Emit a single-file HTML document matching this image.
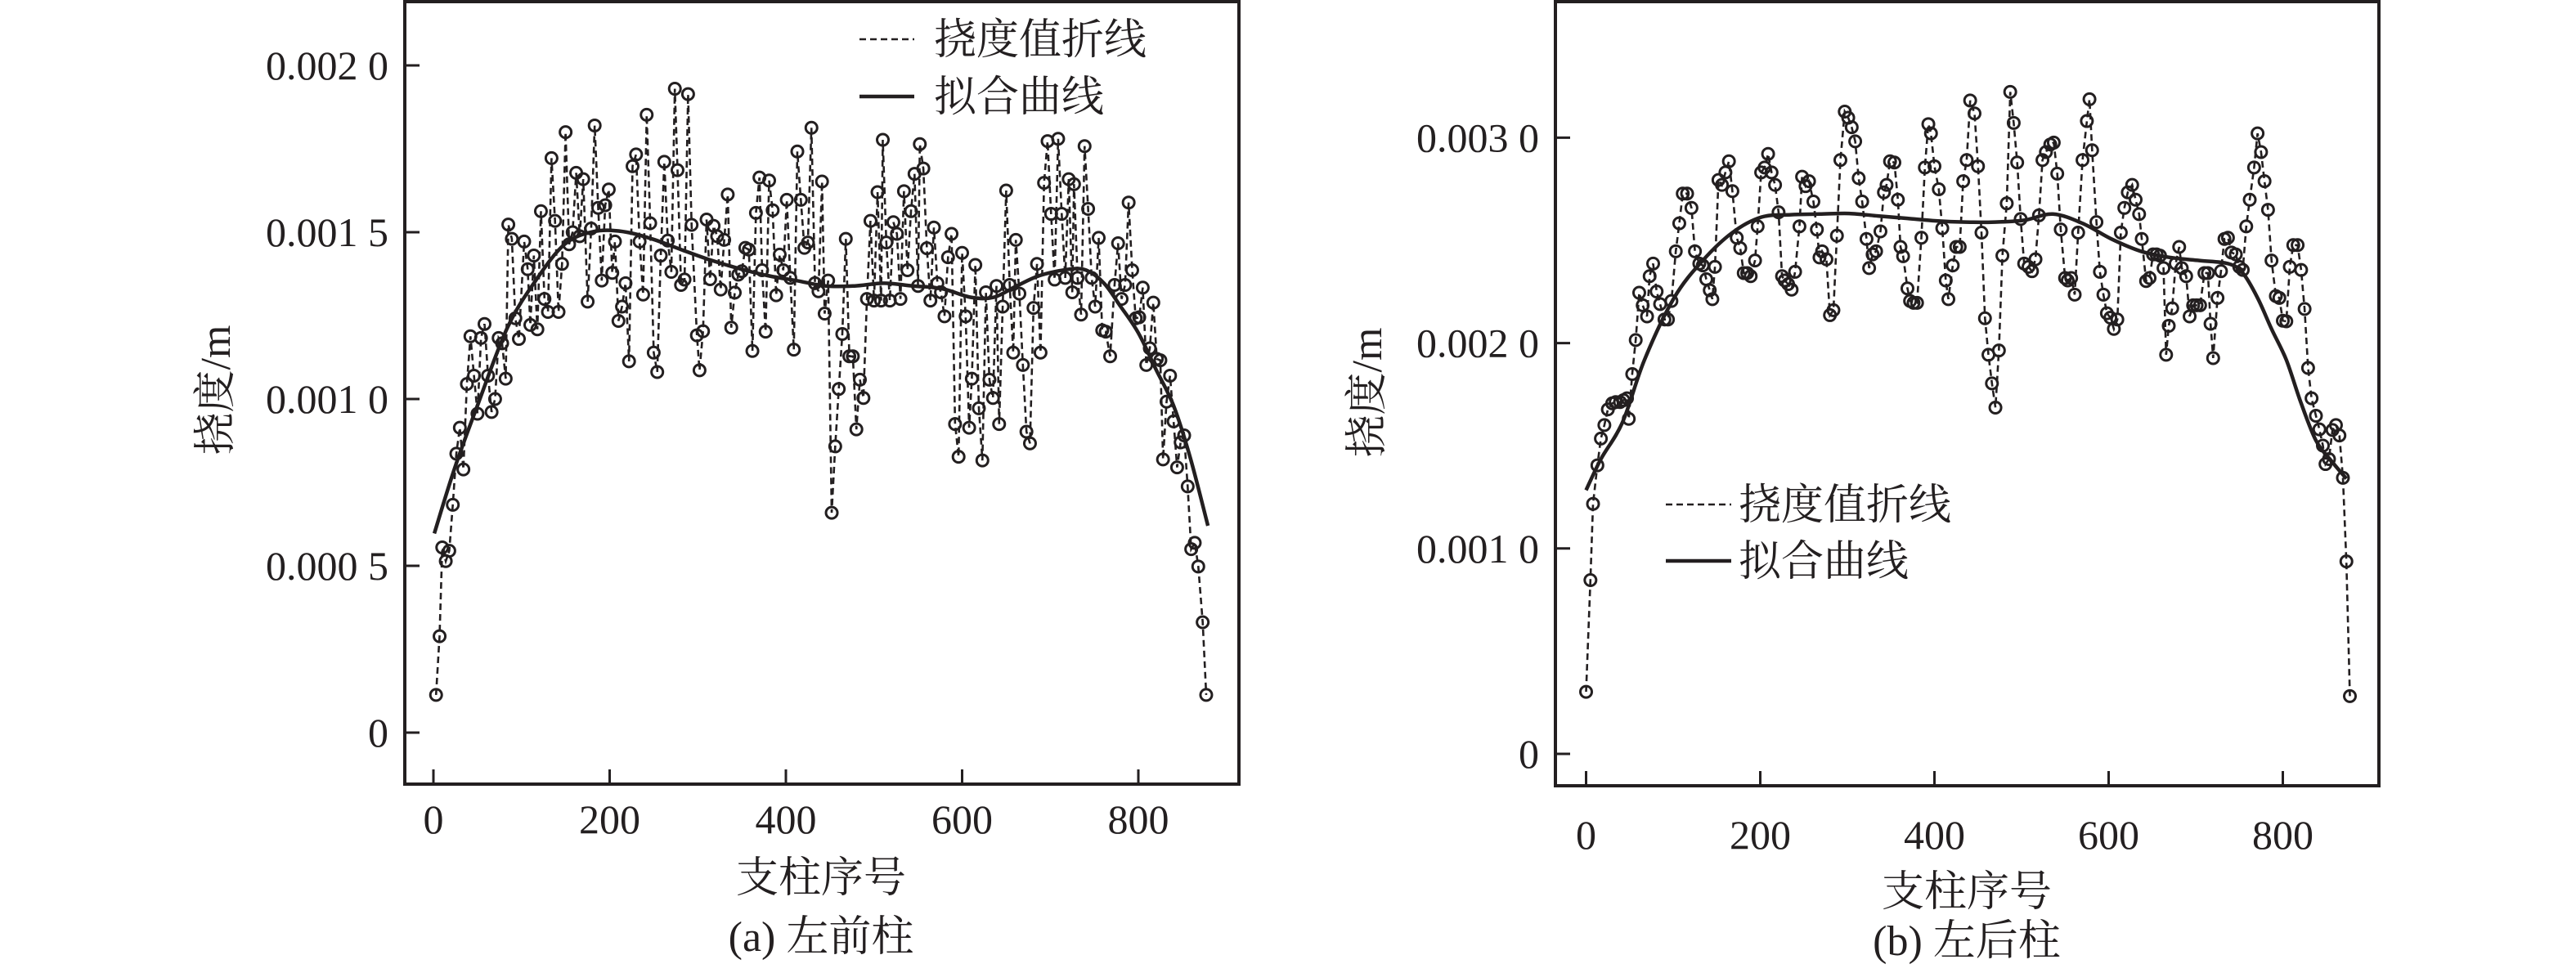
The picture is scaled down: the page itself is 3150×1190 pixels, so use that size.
<!DOCTYPE html>
<html><head><meta charset="utf-8">
<style>
html,body{margin:0;padding:0;background:#fff;}
svg{display:block;}
text{font-family:"Liberation Serif","Noto Serif CJK SC","Noto Sans CJK SC",serif;fill:#231f20;}
</style></head>
<body>
<svg id="fig" width="3150" height="1190" viewBox="0 0 3150 1190" xmlns="http://www.w3.org/2000/svg">
<g id="chartA"></g>
<g id="chartB"></g>
</svg>
<script>
// ---- Chart (a) data: support index, deflection in mm ----
const aX = [3,7,10,14,18,22,26,30,34,38,42,46,50,54,58,62,66,70,74,78,82,85,89,93,97,103,107,110,114,118,122,126,130,134,138,142,146,150,154,158,162,166,170,175,179,183,187,191,195,199,203,206,210,214,218,222,226,230,234,238,242,246,250,254,258,262,266,270,274,277,281,285,289,293,299,302,306,310,314,318,322,326,330,334,338,342,346,350,354,358,362,366,370,373,377,381,385,389,393,397,401,405,409,413,417,421,425,429,433,437,441,444,448,452,456,460,464,468,472,476,480,484,488,492,496,500,504,508,510,514,518,522,526,530,534,538,542,546,550,552,556,560,564,568,572,576,580,584,588,592,596,600,604,608,611,615,619,623,627,631,635,639,642,646,650,654,658,661,665,669,673,677,681,685,689,693,697,701,705,709,713,717,721,725,727,731,735,739,743,747,751,755,759,763,768,773,777,781,785,789,793,797,801,805,809,813,817,821,825,828,832,836,840,844,848,852,856,860,864,868,873,877];
const aY = [0.113,0.289,0.555,0.514,0.545,0.683,0.836,0.914,0.789,1.045,1.188,1.070,0.956,1.183,1.225,1.070,0.961,1.000,1.183,1.167,1.061,1.523,1.480,1.242,1.180,1.472,1.389,1.222,1.430,1.209,1.563,1.300,1.261,1.722,1.534,1.261,1.405,1.800,1.464,1.500,1.678,1.488,1.659,1.292,1.511,1.820,1.573,1.355,1.581,1.628,1.378,1.472,1.234,1.277,1.347,1.113,1.698,1.733,1.472,1.313,1.852,1.527,1.139,1.081,1.430,1.711,1.475,1.381,1.930,1.686,1.342,1.358,1.914,1.522,1.191,1.086,1.203,1.538,1.359,1.519,1.488,1.328,1.477,1.613,1.214,1.319,1.373,1.383,1.453,1.448,1.144,1.558,1.664,1.386,1.202,1.655,1.566,1.311,1.433,1.386,1.597,1.363,1.148,1.742,1.597,1.453,1.469,1.813,1.347,1.323,1.652,1.256,1.355,0.659,0.858,1.030,1.195,1.480,1.128,1.128,0.909,1.058,1.003,1.300,1.534,1.295,1.620,1.295,1.777,1.469,1.295,1.530,1.495,1.300,1.623,1.386,1.563,1.675,1.339,1.764,1.691,1.452,1.295,1.514,1.347,1.320,1.248,1.425,1.495,0.925,0.827,1.438,1.248,0.914,1.061,1.402,0.972,0.816,1.320,1.058,1.003,1.339,0.925,1.277,1.625,1.342,1.139,1.477,1.316,1.102,0.902,0.867,1.273,1.405,1.139,1.648,1.773,1.555,1.358,1.780,1.555,1.363,1.659,1.320,1.644,1.363,1.253,1.758,1.570,1.363,1.277,1.483,1.206,1.202,1.128,1.342,1.467,1.300,1.342,1.589,1.386,1.242,1.245,1.334,1.102,1.152,1.289,1.120,1.116,0.819,0.992,1.070,0.933,0.795,0.870,0.891,0.738,0.550,0.569,0.498,0.331,0.113];
const aFitX = [1,24,51,84,116,149,182,215,248,281,314,347,379,412,445,478,511,544,577,610,636,662,688,721,741,761,780,800,820,840,859,879];
const aFitY = [0.597,0.792,0.988,1.214,1.355,1.464,1.502,1.502,1.480,1.448,1.417,1.391,1.370,1.355,1.339,1.339,1.347,1.339,1.331,1.305,1.305,1.339,1.370,1.389,1.386,1.347,1.277,1.198,1.089,0.980,0.823,0.620];
const aYTicks = [0,0.5,1.0,1.5,2.0];
const aYTickLabels = ["0","0.000 5","0.001 0","0.001 5","0.002 0"];
const xTicks = [0,200,400,600,800];
const xTickLabels = ["0","200","400","600","800"];

// ---- Chart (b) data ----
const bX = [0,5,8,13,17,21,25,30,34,39,43,47,49,53,57,61,65,70,73,77,81,85,90,94,98,103,107,111,116,121,125,130,134,138,142,145,148,152,156,160,164,168,173,177,181,185,189,194,197,201,205,209,213,217,221,225,228,232,236,240,245,248,252,256,261,265,268,271,276,280,284,288,292,297,301,305,309,313,317,322,325,329,333,338,342,345,349,354,358,361,364,369,372,376,380,385,389,393,396,400,405,409,413,416,421,425,429,433,437,441,446,450,454,458,462,466,470,474,478,483,487,491,495,499,503,508,512,516,520,524,528,533,537,541,545,550,553,557,561,565,570,575,578,581,586,590,594,598,602,606,610,614,618,622,627,631,635,638,643,647,651,655,659,663,666,669,673,677,681,684,689,693,697,701,705,710,714,717,720,725,729,733,737,741,746,750,754,758,762,767,771,775,779,783,787,792,796,800,804,808,812,817,821,825,829,833,838,842,846,849,853,857,861,865,869,873,877];
const bY = [0.302,0.846,1.217,1.405,1.535,1.601,1.677,1.707,1.713,1.713,1.722,1.731,1.631,1.849,2.015,2.245,2.184,2.130,2.326,2.387,2.251,2.190,2.115,2.115,2.205,2.447,2.583,2.728,2.728,2.658,2.447,2.387,2.378,2.311,2.257,2.214,2.371,2.794,2.770,2.831,2.885,2.740,2.513,2.462,2.341,2.341,2.326,2.402,2.568,2.831,2.855,2.921,2.831,2.770,2.637,2.326,2.305,2.287,2.260,2.347,2.568,2.810,2.764,2.788,2.689,2.553,2.417,2.447,2.408,2.136,2.160,2.523,2.891,3.127,3.097,3.051,2.982,2.803,2.689,2.507,2.365,2.432,2.447,2.544,2.734,2.770,2.885,2.879,2.698,2.468,2.423,2.266,2.205,2.196,2.196,2.513,2.855,3.066,3.021,2.861,2.749,2.559,2.305,2.214,2.378,2.468,2.468,2.788,2.891,3.181,3.118,2.861,2.538,2.121,1.943,1.804,1.686,1.964,2.426,2.680,3.223,3.072,2.879,2.604,2.387,2.371,2.350,2.408,2.622,2.891,2.930,2.967,2.976,2.825,2.553,2.317,2.305,2.317,2.236,2.538,2.891,3.081,3.187,2.939,2.589,2.347,2.236,2.145,2.124,2.069,2.115,2.538,2.658,2.734,2.770,2.698,2.628,2.507,2.302,2.317,2.432,2.432,2.426,2.365,1.943,2.084,2.169,2.387,2.468,2.365,2.326,2.130,2.184,2.184,2.184,2.341,2.341,2.094,1.927,2.220,2.350,2.507,2.513,2.441,2.432,2.371,2.356,2.568,2.698,2.855,3.021,2.930,2.788,2.649,2.402,2.229,2.220,2.109,2.106,2.371,2.477,2.477,2.356,2.166,1.879,1.731,1.646,1.580,1.501,1.411,1.435,1.577,1.601,1.550,1.344,0.937,0.281];
const bFitX = [0,17,42,67,101,134,168,201,235,268,302,335,369,402,436,469,503,536,570,603,637,670,704,737,754,771,787,804,821,838,855,873];
const bFitY = [1.284,1.435,1.616,1.918,2.220,2.402,2.538,2.613,2.625,2.628,2.631,2.619,2.607,2.595,2.589,2.589,2.598,2.628,2.583,2.507,2.447,2.417,2.402,2.387,2.341,2.220,2.069,1.918,1.707,1.526,1.430,1.340];
const bYTicks = [0,1.0,2.0,3.0];
const bYTickLabels = ["0","0.001 0","0.002 0","0.003 0"];

const NS = "http://www.w3.org/2000/svg";
function mk(parent, tag, attrs, txt){
  const e = document.createElementNS(NS, tag);
  for (const k in attrs) e.setAttribute(k, attrs[k]);
  if (txt !== undefined) e.textContent = txt;
  parent.appendChild(e);
  return e;
}
function smoothPath(P){
  let d = "M" + P[0][0].toFixed(1) + "," + P[0][1].toFixed(1);
  for (let i = 0; i < P.length - 1; i++){
    const p0 = P[Math.max(0,i-1)], p1 = P[i], p2 = P[i+1], p3 = P[Math.min(P.length-1,i+2)];
    const c1x = p1[0] + (p2[0]-p0[0])/6, c1y = p1[1] + (p2[1]-p0[1])/6;
    const c2x = p2[0] - (p3[0]-p1[0])/6, c2y = p2[1] - (p3[1]-p1[1])/6;
    d += " C" + c1x.toFixed(1) + "," + c1y.toFixed(1) + " " + c2x.toFixed(1) + "," + c2y.toFixed(1) + " " + p2[0].toFixed(1) + "," + p2[1].toFixed(1);
  }
  return d;
}

function drawChart(g, cfg){
  const sx = v => cfg.x0 + v * cfg.kx;
  const sy = v => cfg.y0 - v * cfg.ky;
  const box = mk(g, "rect", {x:cfg.L, y:cfg.T, width:cfg.R-cfg.L, height:cfg.B-cfg.T, fill:"none", stroke:"#231f20", "stroke-width":4});
  
  
  cfg.yTicks.forEach((t,i)=>{
    const y = sy(t);
    const tk = mk(g, "line", {x1:cfg.L, x2:cfg.L+18, y1:y, y2:y, stroke:"#231f20", "stroke-width":3});
    
    
    const lb = mk(g, "text", {x:cfg.L-20, y:y+17, "text-anchor":"end", "font-size":50}, cfg.yLabels[i]);
    
    
  });
  xTicks.forEach((t,i)=>{
    const x = sx(t);
    const tk = mk(g, "line", {x1:x, x2:x, y1:cfg.B, y2:cfg.B-18, stroke:"#231f20", "stroke-width":3});
    
    
    const lb = mk(g, "text", {x:x, y:cfg.xLabY+17, "text-anchor":"middle", "font-size":50}, xTickLabels[i]);
    
    
  });
  const pts = cfg.px.map((v,i)=> sx(v).toFixed(1)+","+sy(cfg.py[i]).toFixed(1)).join(" ");
  const dl = mk(g, "polyline", {points:pts, fill:"none", stroke:"#231f20", "stroke-width":2.6, "stroke-dasharray":"8 5"});
  
  
  cfg.px.forEach((v,i)=>{
    const c = mk(g, "circle", {cx:sx(v), cy:sy(cfg.py[i]), r:7, fill:"none", stroke:"#231f20", "stroke-width":3});
    
    
  });
  const fP = cfg.fx.map((v,i)=> [sx(v), sy(cfg.fy[i])]);
  const fl = mk(g, "path", {d:smoothPath(fP), fill:"none", stroke:"#231f20", "stroke-width":4.5, "stroke-linejoin":"round"});
  
  
  const lg = mk(g, "g", {});
  
  
  const l1 = mk(lg, "line", {x1:cfg.lgX1, x2:cfg.lgX2, y1:cfg.lgY1, y2:cfg.lgY1, stroke:"#231f20", "stroke-width":2.6, "stroke-dasharray":"8 5"});
  
  
  const t1 = mk(lg, "text", {x:cfg.lgT, y:cfg.lgY1+18, "font-size":52}, "挠度值折线");
  
  
  const l2 = mk(lg, "line", {x1:cfg.lgX1, x2:cfg.lgX2, y1:cfg.lgY2, y2:cfg.lgY2, stroke:"#231f20", "stroke-width":4.5});
  
  
  const t2 = mk(lg, "text", {x:cfg.lgT, y:cfg.lgY2+18, "font-size":52}, "拟合曲线");
  
  
  const yt = mk(g, "text", {x:0, y:0, "text-anchor":"middle", "font-size":52, transform:"translate("+(cfg.yTitleX+18)+","+cfg.yTitleY+") rotate(-90)"}, "挠度/m");
  
  
  const xt = mk(g, "text", {x:cfg.cx, y:cfg.xTitleY+18, "text-anchor":"middle", "font-size":52}, "支柱序号");
  
  
  const cap = mk(g, "text", {x:cfg.cx, y:cfg.capY+18, "text-anchor":"middle", "font-size":52}, cfg.caption);
  
  
}

drawChart(document.getElementById("chartA"), {
  L:495, R:1515, T:2, B:959, x0:530, kx:1.0775, y0:896, ky:408,
  yTicks:aYTicks, yLabels:aYTickLabels, xLabY:1002,
  px:aX, py:aY, fx:aFitX, fy:aFitY,
  lgX1:1051, lgX2:1118, lgT:1142, lgY1:48, lgY2:118,
  yTitleX:263, yTitleY:477, cx:1004, xTitleY:1073, capY:1145, caption:"(a) 左前柱"
});
drawChart(document.getElementById("chartB"), {
  L:1902, R:2909, T:2, B:961, x0:1939.5, kx:1.065, y0:922, ky:251.2,
  yTicks:bYTicks, yLabels:bYTickLabels, xLabY:1021,
  px:bX, py:bY, fx:bFitX, fy:bFitY,
  lgX1:2037, lgX2:2117, lgT:2126, lgY1:617, lgY2:686,
  yTitleX:1671, yTitleY:480, cx:2405, xTitleY:1090, capY:1150, caption:"(b) 左后柱"
});
</script>
</body></html>
